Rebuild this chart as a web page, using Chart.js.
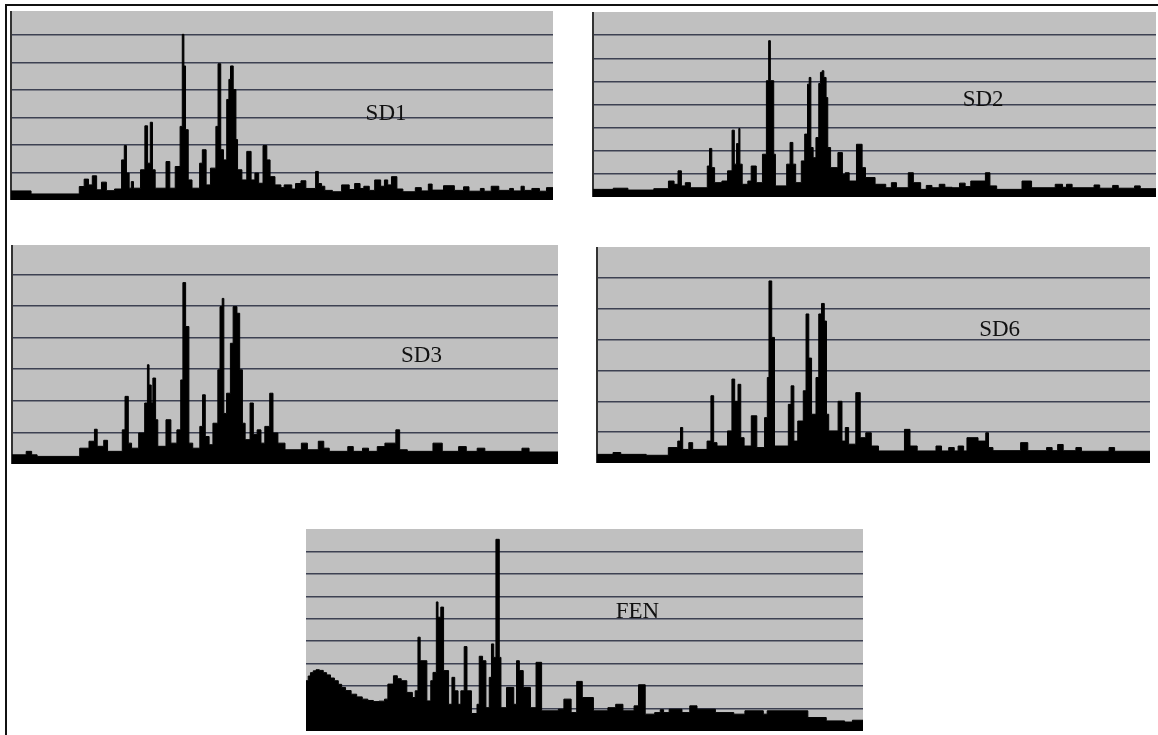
<!DOCTYPE html>
<html>
<head>
<meta charset="utf-8">
<script src="https://cdn.jsdelivr.net/npm/chart.js@4.4.1/dist/chart.umd.min.js"></script>
<style>
  html, body { margin: 0; padding: 0; background: #fff; overflow: hidden; }
  body { width: 1158px; height: 735px; position: relative; }
  .frame { position: absolute; left: 5px; top: 4px; width: 1170px; height: 760px;
           border-left: 2px solid #111; border-top: 2px solid #111; }
  .panel { position: absolute; }
</style>
</head>
<body>
<div class="frame"></div>
<div class="panel" id="p-sd1" style="left:10px;top:11px;width:543px;height:189px"><canvas id="sd1"></canvas></div>
<div class="panel" id="p-sd2" style="left:592px;top:12px;width:564px;height:185px"><canvas id="sd2"></canvas></div>
<div class="panel" id="p-sd3" style="left:11px;top:245px;width:547px;height:219px"><canvas id="sd3"></canvas></div>
<div class="panel" id="p-sd6" style="left:596px;top:247px;width:554px;height:216px"><canvas id="sd6"></canvas></div>
<div class="panel" id="p-fen" style="left:305px;top:529px;width:558px;height:202px"><canvas id="fen"></canvas></div>
<script>
// espectros: canal (0-1000) e intensidade em unidades de grade
const sd1Channel = [0,37,126,135,143,150,158,167,176,191,204,209,213,218,222,226,239,247,252,257,261,266,286,293,303,312,316,319,322,327,334,348,353,360,368,378,382,387,392,398,402,405,410,415,418,426,435,443,450,457,465,472,478,487,498,504,518,525,535,544,562,567,573,579,593,610,624,634,644,651,661,671,682,689,695,702,712,723,746,757,770,777,798,818,835,845,866,873,886,900,920,927,941,947,961,975,988,1000];
const sd1Intensity = [0.33,0.22,0.49,0.76,0.55,0.88,0.37,0.65,0.34,0.4,1.46,1.98,0.98,0.43,0.67,0.43,1.1,2.7,1.34,2.83,1.1,0.43,1.4,0.43,1.22,2.68,6.03,4.88,2.56,0.73,0.43,1.34,1.83,0.55,1.16,2.68,4.96,1.83,1.46,3.66,4.39,4.88,4.02,2.2,1.1,0.73,1.77,0.73,0.98,0.61,1.98,1.46,0.85,0.55,0.45,0.55,0.4,0.6,0.7,0.42,1.04,0.6,0.5,0.35,0.3,0.55,0.38,0.6,0.42,0.5,0.35,0.73,0.5,0.73,0.55,0.85,0.4,0.3,0.45,0.33,0.58,0.36,0.52,0.35,0.48,0.32,0.42,0.32,0.5,0.35,0.42,0.33,0.5,0.35,0.42,0.32,0.45,0.45];

const sd2Channel = [0,36,62,108,134,144,151,157,164,173,203,207,211,216,229,239,247,251,255,259,261,265,275,281,290,301,308,312,315,321,324,344,350,355,360,370,376,381,384,387,391,396,401,404,407,410,414,417,422,435,443,448,455,468,478,484,501,520,530,539,560,569,582,592,602,615,625,638,651,661,671,697,705,717,762,779,821,834,841,851,890,900,923,933,962,972,1000];
const sd2Intensity = [0.33,0.38,0.3,0.36,0.69,0.55,1.13,0.48,0.62,0.4,1.34,2.1,1.27,0.62,0.69,1.13,2.89,1.42,2.31,2.96,1.42,0.55,0.69,1.34,0.62,1.85,5.03,6.76,5.03,1.85,0.48,1.42,2.36,1.42,0.62,1.56,2.72,4.88,5.17,2.14,1.7,2.57,4.91,5.39,5.46,5.17,4.3,2.14,1.27,1.92,0.98,1.05,0.69,2.28,1.27,0.84,0.55,0.4,0.62,0.4,1.05,0.62,0.33,0.5,0.4,0.55,0.42,0.4,0.6,0.45,0.69,1.05,0.48,0.33,0.69,0.4,0.55,0.42,0.55,0.4,0.52,0.38,0.5,0.38,0.48,0.36,0.36];

const sd3Channel = [0,26,36,46,124,141,151,156,168,175,202,207,213,219,232,243,248,251,255,258,263,267,282,291,302,309,313,318,324,331,344,349,354,361,368,377,381,385,388,393,400,405,412,417,422,427,436,442,449,456,463,472,478,487,500,530,541,561,571,581,615,625,642,653,669,683,703,710,724,771,788,818,832,852,866,934,947,1000];
const sd3Intensity = [0.29,0.4,0.29,0.24,0.5,0.72,1.1,0.56,0.75,0.4,1.08,2.14,0.66,0.5,0.98,1.93,3.14,2.5,1.93,2.72,1.4,0.56,1.4,0.66,1.08,2.66,5.74,4.35,0.66,0.5,1.19,2.19,0.87,0.61,1.29,2.98,4.98,5.24,1.6,2.24,3.82,4.98,4.77,2.98,1.29,0.77,1.93,0.93,1.08,0.66,1.19,2.24,0.98,0.66,0.45,0.66,0.45,0.72,0.5,0.4,0.55,0.4,0.5,0.4,0.55,0.66,1.08,0.45,0.4,0.66,0.4,0.55,0.4,0.5,0.4,0.5,0.38,0.38];

const sd6Channel = [0,29,43,89,129,146,151,155,166,173,199,206,211,217,236,244,249,255,260,266,279,289,303,308,311,316,321,346,351,356,363,373,378,383,388,396,401,406,411,415,419,436,443,449,455,468,476,486,496,509,556,566,579,613,623,636,646,653,663,669,689,703,708,716,766,779,813,823,833,843,866,876,926,936,1000];
const sd6Intensity = [0.28,0.34,0.28,0.25,0.5,0.71,1.15,0.44,0.66,0.44,0.71,2.18,0.66,0.55,1.04,2.72,2.0,2.55,0.82,0.55,1.53,0.5,1.47,2.77,5.9,4.07,0.55,1.9,2.5,0.71,1.36,2.34,4.83,3.4,1.58,2.77,4.83,5.17,4.6,1.58,1.04,2.0,0.71,1.15,0.61,2.28,0.82,0.98,0.55,0.39,1.09,0.55,0.39,0.55,0.39,0.5,0.39,0.55,0.39,0.82,0.71,0.98,0.5,0.4,0.66,0.4,0.5,0.4,0.6,0.4,0.5,0.38,0.5,0.38,0.38];

const fenChannel = [0,4,8,13,18,24,31,37,44,51,58,64,71,81,91,101,111,121,131,141,147,157,164,171,181,191,196,201,205,217,224,228,234,237,242,247,256,262,267,273,278,284,289,297,307,311,317,323,329,333,337,341,347,350,360,373,378,383,390,403,413,423,453,463,476,486,496,516,542,556,569,589,597,609,626,636,642,652,675,689,702,735,768,788,821,828,901,934,967,981,1000];
const fenIntensity = [2.24,2.45,2.6,2.68,2.73,2.7,2.6,2.5,2.36,2.24,2.08,1.94,1.8,1.64,1.52,1.42,1.36,1.31,1.33,1.42,2.09,2.46,2.33,2.24,1.72,1.49,1.79,4.18,3.13,1.34,2.24,2.61,5.75,5.07,5.52,2.69,1.19,2.39,1.79,1.19,1.79,3.76,1.79,0.78,1.19,3.33,3.13,1.04,2.39,3.88,3.28,8.54,3.28,1.04,1.94,1.19,3.13,2.69,1.94,1.04,3.06,0.9,0.97,1.42,0.82,2.21,1.49,0.9,1.04,1.19,0.9,1.12,2.06,0.75,0.82,0.95,0.82,0.97,0.82,1.12,0.97,0.82,0.75,0.9,0.75,0.9,0.6,0.45,0.4,0.48,0.3,0.3];

const panelNames = ["SD1", "SD2", "SD3", "SD6", "FEN"];

// fundo cinza da area do grafico
const panelBackground = {
	id: "panelBackground",
	beforeDraw(chart) {
		const { ctx, chartArea: a } = chart;
		ctx.save();
		ctx.fillStyle = "#c0c0c0";
		ctx.fillRect(a.left, a.top, a.width, a.height);
		ctx.restore();
	}
};

// nome do espectro escrito dentro do painel
const panelLabel = {
	id: "panelLabel",
	afterDatasetsDraw(chart, args, opts) {
		const { ctx, scales } = chart;
		ctx.save();
		ctx.font = '23px "Liberation Serif", "Times New Roman", serif';
		ctx.fillStyle = "#111";
		ctx.textAlign = "center";
		ctx.textBaseline = "middle";
		ctx.fillText(opts.text, scales.x.getPixelForValue(opts.x), scales.y.getPixelForValue(opts.y));
		ctx.restore();
	}
};

function makeSpectrum(id, name, channel, intensity, yMax, label, leftAxis) {
	const points = channel.map((c, i) => ({ x: c, y: intensity[i] }));
	new Chart(document.getElementById(id), {
		type: "line",
		data: {
			datasets: [{
				data: points,
				stepped: true,
				fill: "origin",
				backgroundColor: "#000",
				borderColor: "#000",
				borderWidth: 1,
				pointRadius: 0
			}]
		},
		options: {
			animation: false,
			responsive: true,
			maintainAspectRatio: false,
			layout: { padding: { left: 1 } },
			plugins: {
				legend: { display: false },
				tooltip: { enabled: false },
				panelLabel: { text: name, x: label[0], y: label[1] }
			},
			scales: {
				x: { type: "linear", min: 0, max: 1000, display: false },
				y: {
					min: 0,
					max: yMax,
					ticks: { display: false, stepSize: 1 },
					grid: {
						drawTicks: false,
						lineWidth: 1.5,
						color: c => (c.tick && Number.isInteger(c.tick.value) && c.tick.value > 0 && c.tick.value < yMax - 0.05) ? "#3d4152" : "rgba(0,0,0,0)"
					},
					border: { display: leftAxis, color: "#333", width: 2 }
				}
			}
		},
		plugins: [panelBackground, panelLabel]
	});
}

makeSpectrum("sd1", panelNames[0], sd1Channel, sd1Intensity, 6.88, [692, 3.15], true);
makeSpectrum("sd2", panelNames[1], sd2Channel, sd2Intensity, 8.0, [693, 4.2], true);
makeSpectrum("sd3", panelNames[2], sd3Channel, sd3Intensity, 6.93, [750, 3.42], true);
makeSpectrum("sd6", panelNames[3], sd6Channel, sd6Intensity, 7.0, [728, 4.3], true);
makeSpectrum("fen", panelNames[4], fenChannel, fenIntensity, 9.0, [595, 5.3], false);
</script>
</body>
</html>
